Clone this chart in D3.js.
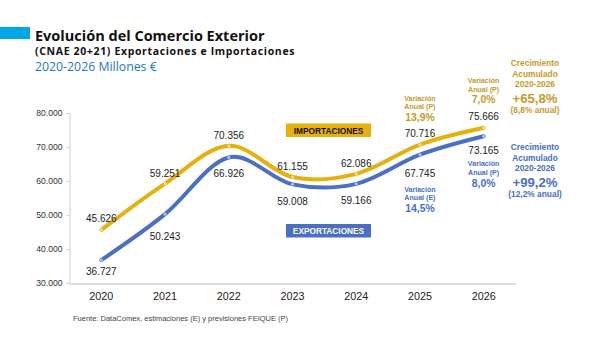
<!DOCTYPE html>
<html>
<head>
<meta charset="utf-8">
<script src="https://cdn.jsdelivr.net/npm/d3@7"></script>
<style>
  body { margin: 0; background: #fff; }
  svg { display: block; }
  text { font-family: "Liberation Sans", Arial, sans-serif; }
  .title { font-family: "Open Sans", "Noto Sans", sans-serif; }
</style>
</head>
<body>
<svg width="600" height="337"></svg>
<script>
const years = ["2020", "2021", "2022", "2023", "2024", "2025", "2026"];
const importaciones = [45626, 59251, 70356, 61155, 62086, 70716, 75666];
const exportaciones = [36727, 50243, 66926, 59008, 59166, 67745, 73165];
const yTicks = [30000, 40000, 50000, 60000, 70000, 80000];

// annual growth notes, placed relative to the series point of that year
const notasImp = [
    { year: "2025", lines: ["Variación", "Anual (P)"], pct: "13,9%", dy: -46 },
    { year: "2026", lines: ["Variación", "Anual (P)"], pct: "7,0%", dy: -47 }
];
const notasExp = [
    { year: "2025", lines: ["Variación", "Anual (E)"], pct: "14,5%", dy: 35 },
    { year: "2026", lines: ["Variación", "Anual (P)"], pct: "8,0%", dy: 28 }
];
const acumImp = ["Crecimiento", "Acumulado", "2020-2026", "+65,8%", "(8,8% anual)"];
const acumExp = ["Crecimiento", "Acumulado", "2020-2026", "+99,2%", "(12,2% anual)"];

const colImp = "#e8b00c";
const colExp = "#4a6fc4";
const txtImp = "#c99a2a";
const txtExp = "#4a6fc4";

const fmtEs = v => d3.format(",")(v).replace(/,/g, ".");

const svg = d3.select("svg");

// header
svg.append("rect").attr("x", 0).attr("y", 27).attr("width", 30).attr("height", 12).attr("fill", "#00a6e6");
svg.append("text").attr("class", "title").attr("x", 35).attr("y", 41)
    .attr("font-size", 14.5).attr("font-weight", "bold").attr("fill", "#111")
    .text("Evolución del Comercio Exterior");
svg.append("text").attr("class", "title").attr("x", 35).attr("y", 55)
    .attr("font-size", 10.5).attr("font-weight", "bold").attr("fill", "#111")
    .attr("letter-spacing", 0.65)
    .text("(CNAE 20+21) Exportaciones e Importaciones");
svg.append("text").attr("class", "title").attr("x", 35).attr("y", 71)
    .attr("font-size", 12.3).attr("fill", "#1f78c1")
    .text("2020-2026 Millones €");

const x = d3.scaleBand().domain(years).range([69.5, 515.5]);
const y = d3.scaleLinear().domain([30000, 80000]).range([283, 113]);
const cx = d => x(d) + x.bandwidth() / 2;

// axes
const yAxis = svg.append("g").attr("transform", "translate(69.5,0)")
    .call(d3.axisLeft(y).tickValues(yTicks).tickFormat(fmtEs).tickSize(3).tickPadding(4));
yAxis.select(".domain").attr("stroke", "#d0d0d0");
yAxis.selectAll(".tick line").attr("stroke", "#d0d0d0");
yAxis.selectAll("text").attr("font-size", 8.6).attr("fill", "#333")
    .attr("font-family", "'Liberation Sans', Arial, sans-serif");

const xAxis = svg.append("g").attr("transform", "translate(0,283.5)")
    .call(d3.axisBottom(x).tickSize(0).tickPadding(9));
xAxis.select(".domain").attr("stroke", "#bfbfbf");
xAxis.selectAll("text").attr("font-size", 10.8).attr("fill", "#222")
    .attr("font-family", "'Liberation Sans', Arial, sans-serif");

// smoothed lines
const line = d3.line()
    .x((d, i) => cx(years[i]))
    .y(d => y(d))
    .curve(d3.curveCardinal.tension(0));

function serie(data, color, lblDy) {
    svg.append("path").datum(data).attr("d", line)
        .attr("fill", "none").attr("stroke", color).attr("stroke-width", 4)
        .attr("stroke-linecap", "round");
    svg.append("g").selectAll("circle").data(data).join("circle")
        .attr("cx", (d, i) => cx(years[i])).attr("cy", d => y(d)).attr("r", 1.6)
        .attr("fill", "#fff").attr("opacity", 0.55);
    svg.append("g").selectAll("text").data(data).join("text")
        .attr("x", (d, i) => cx(years[i]))
        .attr("y", (d, i) => y(d) + lblDy[i])
        .attr("text-anchor", "middle").attr("dominant-baseline", "central")
        .attr("font-size", 10).attr("fill", "#222")
        .text(fmtEs);
}
serie(importaciones, colImp, [-11, -10, -10, -11, -10, -11, -11]);
serie(exportaciones, colExp, [11, 22, 16, 17, 17, 19, 14]);

// series tags inside the plot
function tag(label, yTop, fill, color) {
    svg.append("rect").attr("x", 286).attr("y", yTop).attr("width", 85).attr("height", 13.5).attr("fill", fill);
    svg.append("text").attr("x", 328.5).attr("y", yTop + 7).attr("text-anchor", "middle")
        .attr("dominant-baseline", "central").attr("font-size", 8.3).attr("font-weight", "bold")
        .attr("fill", color).text(label);
}
tag("IMPORTACIONES", 123.5, colImp, "#111");
tag("EXPORTACIONES", 224, colExp, "#fff");

// annual growth notes
function notas(list, serieData, color) {
    list.forEach(n => {
        const i = years.indexOf(n.year);
        const y0 = y(serieData[i]) + n.dy;
        const g = svg.append("g").attr("fill", color).attr("text-anchor", "middle")
            .attr("font-weight", "bold");
        n.lines.forEach((t, k) => {
            g.append("text").attr("x", cx(n.year)).attr("y", y0 + k * 8.8)
                .attr("dominant-baseline", "central").attr("font-size", 7.1).text(t);
        });
        g.append("text").attr("x", cx(n.year)).attr("y", y0 + 2 * 8.8 + 1.5)
            .attr("dominant-baseline", "central").attr("font-size", 10.4).text(n.pct);
    });
}
notas(notasImp, importaciones, txtImp);
notas(notasExp, exportaciones, txtExp);

// cumulative growth
function acum(lines, yTop, color) {
    const g = svg.append("g").attr("fill", color).attr("text-anchor", "middle")
        .attr("font-weight", "bold");
    const offs = [0, 10.7, 21, 35, 47];
    lines.forEach((t, k) => {
        g.append("text").attr("x", 535).attr("y", yTop + offs[k])
            .attr("dominant-baseline", "central")
            .attr("font-size", k === 3 ? 13.2 : 8.4)
            .text(t);
    });
}
acum(acumImp, 63.3, txtImp);
acum(acumExp, 147.3, txtExp);

// source
svg.append("text").attr("x", 73).attr("y", 318.5).attr("dominant-baseline", "central")
    .attr("font-size", 7.5).attr("fill", "#444")
    .text("Fuente: DataComex, estimaciones (E) y previsiones FEIQUE (P)");
</script>
</body>
</html>
